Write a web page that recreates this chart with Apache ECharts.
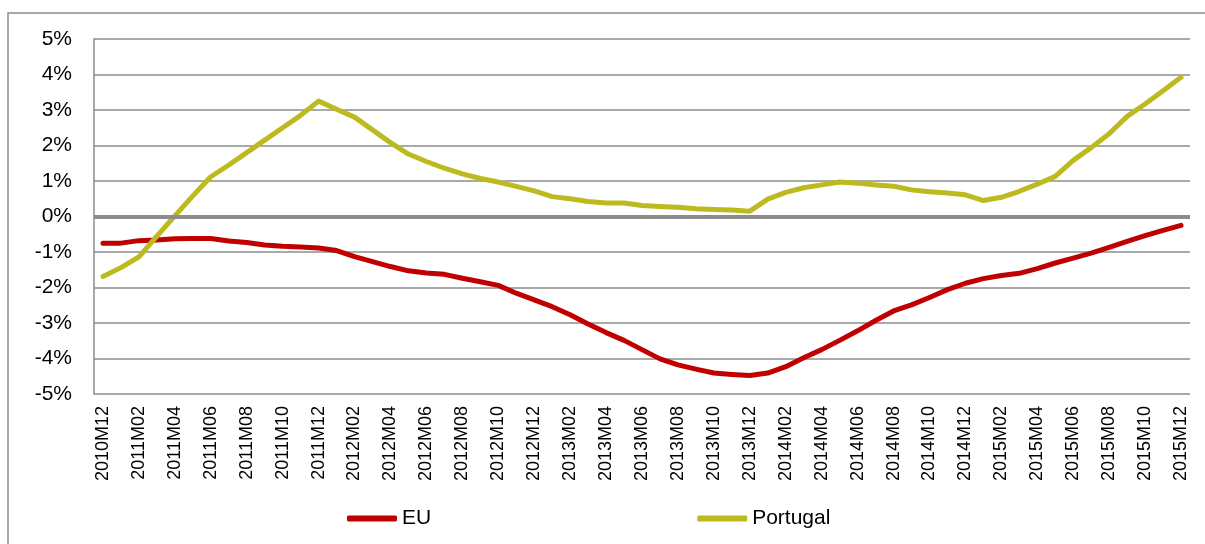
<!DOCTYPE html>
<html>
<head>
<meta charset="utf-8">
<script src="https://cdn.jsdelivr.net/npm/echarts@6/dist/echarts.min.js"></script>
<style>
  html, body { margin: 0; padding: 0; background: #fff; }
  #main { width: 1205px; height: 544px; }
</style>
</head>
<body>
<div id="main"></div>
<script>
// monthly periods, 2010M12 .. 2015M12
var months = [
  '2010M12',
  '2011M01','2011M02','2011M03','2011M04','2011M05','2011M06','2011M07','2011M08','2011M09','2011M10','2011M11','2011M12',
  '2012M01','2012M02','2012M03','2012M04','2012M05','2012M06','2012M07','2012M08','2012M09','2012M10','2012M11','2012M12',
  '2013M01','2013M02','2013M03','2013M04','2013M05','2013M06','2013M07','2013M08','2013M09','2013M10','2013M11','2013M12',
  '2014M01','2014M02','2014M03','2014M04','2014M05','2014M06','2014M07','2014M08','2014M09','2014M10','2014M11','2014M12',
  '2015M01','2015M02','2015M03','2015M04','2015M05','2015M06','2015M07','2015M08','2015M09','2015M10','2015M11','2015M12'
];

// values in %
var euValues = [
  -0.75, -0.75, -0.68, -0.66, -0.63, -0.62, -0.62, -0.69, -0.73, -0.80, -0.84, -0.86, -0.89,
  -0.96, -1.13, -1.27, -1.41, -1.53, -1.59, -1.63, -1.74, -1.84, -1.94, -2.16, -2.35,
  -2.54, -2.77, -3.03, -3.27, -3.49, -3.75, -4.01, -4.18, -4.30, -4.41, -4.45, -4.48,
  -4.41, -4.23, -3.98, -3.75, -3.49, -3.22, -2.93, -2.66, -2.49, -2.28, -2.06, -1.88,
  -1.75, -1.66, -1.60, -1.47, -1.31, -1.17, -1.03, -0.87, -0.70, -0.54, -0.39, -0.25
];
var portugalValues = [
  -1.69, -1.44, -1.14, -0.55, 0.02, 0.58, 1.12, 1.45, 1.80, 2.15, 2.50, 2.85, 3.25,
  3.02, 2.80, 2.44, 2.08, 1.76, 1.55, 1.36, 1.20, 1.07, 0.97, 0.85, 0.72,
  0.56, 0.50, 0.42, 0.38, 0.38, 0.31, 0.28, 0.26, 0.22, 0.20, 0.18, 0.15,
  0.49, 0.68, 0.81, 0.89, 0.97, 0.94, 0.89, 0.85, 0.75, 0.70, 0.66, 0.61,
  0.45, 0.54, 0.71, 0.91, 1.13, 1.58, 1.94, 2.33, 2.82, 3.17, 3.54, 3.92
];
var seriesNames = ['EU', 'Portugal'];

var gridColor = '#8c8c8c';
var font = 'Liberation Sans, Arial, sans-serif';

var chart = echarts.init(document.getElementById('main'));
var option = {
  backgroundColor: '#fff',
  animation: false,
  textStyle: { fontFamily: font },
  graphic: [{
    type: 'rect',
    shape: { x: 8, y: 13, width: 1300, height: 700 },
    style: { fill: 'none', stroke: gridColor, lineWidth: 1.5 },
    silent: true
  }],
  grid: { left: 94, right: 15, top: 39, bottom: 150 },
  legend: {
    data: seriesNames,
    left: 342,
    top: 503,
    icon: 'roundRect',
    itemWidth: 50,
    itemHeight: 6,
    itemGap: 266,
    textStyle: { fontSize: 21, color: '#000', fontFamily: font }
  },
  xAxis: {
    type: 'category',
    data: months,
    boundaryGap: true,
    axisLine: { show: false },
    axisTick: { show: false },
    axisLabel: {
      interval: 1,
      rotate: 90,
      margin: 12,
      fontSize: 18,
      color: '#000',
      fontFamily: font
    },
    splitLine: { show: false }
  },
  yAxis: {
    type: 'value',
    min: -5,
    max: 5,
    interval: 1,
    axisLine: { show: true, lineStyle: { color: gridColor, width: 1.5 } },
    axisTick: { show: false },
    axisLabel: {
      formatter: '{value}%',
      margin: 22,
      fontSize: 21,
      color: '#000',
      fontFamily: font
    },
    splitLine: { show: true, lineStyle: { color: gridColor, width: 1.5 } }
  },
  series: [
    {
      name: seriesNames[0],
      type: 'line',
      data: euValues,
      symbol: 'none',
      color: '#c00000',
      lineStyle: { width: 5, color: '#c00000', cap: 'round', join: 'round' },
      markLine: {
        silent: true,
        symbol: 'none',
        label: { show: false },
        lineStyle: { color: gridColor, width: 4, type: 'solid' },
        data: [{ yAxis: 0 }]
      },
      z: 3
    },
    {
      name: seriesNames[1],
      type: 'line',
      data: portugalValues,
      symbol: 'none',
      color: '#bdba1f',
      lineStyle: { width: 5, color: '#bdba1f', cap: 'round', join: 'round' },
      z: 3
    }
  ]
};
chart.setOption(option);
</script>
</body>
</html>
